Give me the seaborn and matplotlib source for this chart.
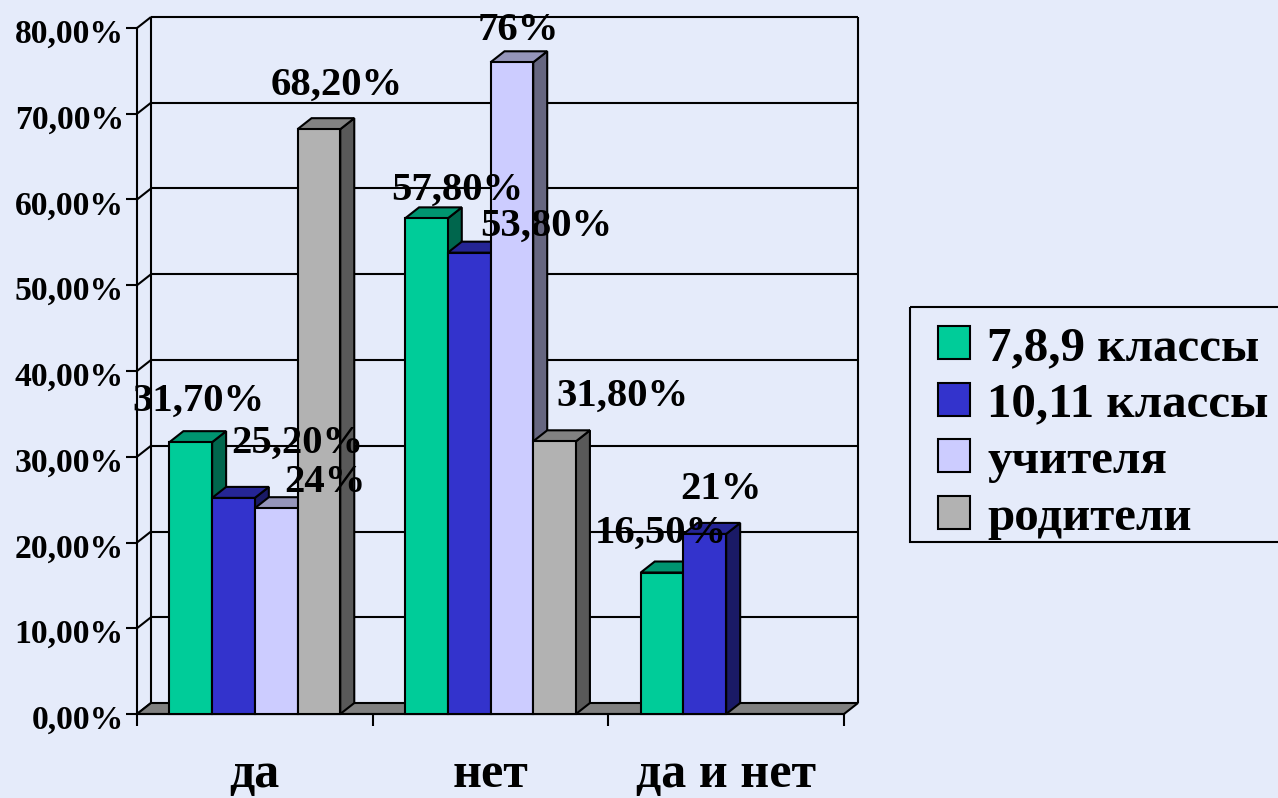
import numpy as np
import pandas as pd
import seaborn as sns
import matplotlib
matplotlib.use("Agg")
import matplotlib.pyplot as plt
from matplotlib.colors import to_rgb
from matplotlib.patches import Polygon
from matplotlib.lines import Line2D
from matplotlib.transforms import IdentityTransform, Affine2D

categories = ["да", "нет", "да и нет"]
series_names = ["7,8,9 классы", "10,11 классы", "учителя", "родители"]
grades_789 = [31.7, 57.8, 16.5]
grades_1011 = [25.2, 53.8, 21.0]
teachers = [24.0, 76.0, np.nan]
parents = [68.2, 31.8, np.nan]
labels_789 = ["31,70%", "57,80%", "16,50%"]
labels_1011 = ["25,20%", "53,80%", "21%"]
labels_teachers = ["24%", "76%", None]
labels_parents = ["68,20%", "31,80%", None]
y_ticks = [0, 10, 20, 30, 40, 50, 60, 70, 80]
y_tick_labels = ["0,00%", "10,00%", "20,00%", "30,00%", "40,00%",
                 "50,00%", "60,00%", "70,00%", "80,00%"]

colors = ["#00CC99", "#3333CC", "#CCCCFF", "#B2B2B2"]
bg = "#E5EBFA"
W, H = 1278, 798
DX, DY = 14, 11
LW = 1.5
FONT = "Liberation Serif"

# label offsets from each bar's top centre, in pixels (x right, y up)
offsets = {
    ("7,8,9 классы", 0): (8, 41), ("7,8,9 классы", 1): (31, 28), ("7,8,9 классы", 2): (-1, 39),
    ("10,11 классы", 0): (64, 55), ("10,11 классы", 1): (77, 26), ("10,11 классы", 2): (16, 44),
    ("учителя", 0): (49, 26), ("учителя", 1): (7, 32),
    ("родители", 0): (18, 44), ("родители", 1): (68, 45),
}

df = pd.DataFrame({
    "category": categories * 4,
    "series": np.repeat(series_names, 3),
    "value": grades_789 + grades_1011 + teachers + parents,
    "label": labels_789 + labels_1011 + labels_teachers + labels_parents,
})

sns.set_theme(style="white")
plt.rcParams["font.family"] = [FONT, "DejaVu Sans"]
plt.rcParams["font.weight"] = "bold"

fig = plt.figure(figsize=(W / 100, H / 100), dpi=100, facecolor=bg)
ax = fig.add_axes([137 / W, (H - 714) / H, 707 / W, 686 / H])
ax.patch.set_alpha(0)

sns.barplot(data=df.dropna(subset=["value"]), x="category", y="value", hue="series",
            order=categories, hue_order=series_names, palette=colors, saturation=1,
            width=0.725, gap=0, edgecolor="black", linewidth=LW, ax=ax, legend=True)
ax.set_xlim(-0.5, 2.5)
ax.set_ylim(0, 80)
ax.set_xlabel("")
ax.set_ylabel("")

# axes, ticks
ax.set_yticks(y_ticks)
ax.set_yticklabels(y_tick_labels, fontsize=24.2, fontweight="bold", color="black")
ax.tick_params(axis="y", left=True, length=8, width=LW, pad=1.5, color="black")
for lbl in ax.get_yticklabels():
    lbl.set_transform(lbl.get_transform() + Affine2D().translate(0, -3))
ax.set_xticks(range(len(categories)))
ax.set_xticklabels(categories, fontsize=36, fontweight="bold", color="black")
ax.tick_params(axis="x", which="major", bottom=False, length=0, pad=27.5)
ax.set_xticks([-0.5, 0.5, 1.5, 2.5], minor=True)
ax.tick_params(axis="x", which="minor", bottom=True, length=8.6, width=LW, color="black")
for side in ("top", "right"):
    ax.spines[side].set_visible(False)
for side in ("left", "bottom"):
    ax.spines[side].set_color("black")
    ax.spines[side].set_linewidth(LW)
ax.spines["bottom"].set_zorder(2.9)

to_px = ax.transData.transform
identity = IdentityTransform()


def poly(points, face, z):
    p = Polygon(points, closed=True, facecolor=face, edgecolor="black", linewidth=LW,
                transform=identity, zorder=z, clip_on=False)
    ax.add_patch(p)
    return p


def line(points, z=1):
    pts = np.array(points)
    ax.add_line(Line2D(pts[:, 0], pts[:, 1], color="black", linewidth=LW,
                       transform=identity, zorder=z, clip_on=False,
                       solid_capstyle="butt"))


x0, x1 = ax.get_xlim()
# back wall, floor and gridlines
for v in y_ticks:
    lx, ly = to_px((x0, v))
    rx, _ = to_px((x1, v))
    line([(lx, ly), (lx + DX, ly + DY)])
    if v:
        line([(lx + DX, ly + DY), (rx + DX, ly + DY)])
lx, by = to_px((x0, 0))
rx, ty = to_px((x1, 80))
line([(lx + DX, by + DY), (lx + DX, ty + DY)])
line([(rx + DX, by + DY), (rx + DX, ty + DY)])
poly([(lx, by), (lx + DX, by + DY), (rx + DX, by + DY), (rx, by)], "#808080", 1.5)

# 3D faces on the bars drawn by seaborn, painted left to right
bars = []
for name, container in zip(series_names, ax.containers):
    color = to_rgb(colors[series_names.index(name)])
    for j, bar in enumerate(container):
        bars.append((bar, color, name, j))
bars.sort(key=lambda b: b[0].get_x())

for i, (bar, color, name, j) in enumerate(bars):
    left = bar.get_x()
    right = left + bar.get_width()
    height = bar.get_height()
    (xa, ya), (xb, yb) = to_px((left, 0)), to_px((right, height))
    z = 3 + i * 0.1
    poly([(xb, ya), (xb + DX, ya + DY), (xb + DX, yb + DY), (xb, yb)],
         tuple(c * 0.5 for c in color), z)
    poly([(xa, yb), (xa + DX, yb + DY), (xb + DX, yb + DY), (xb, yb)],
         tuple(c * 0.73 for c in color), z + 0.01)
    bar.set_zorder(z + 0.02)
    bar.set_clip_on(False)
    text = df[(df["series"] == name)].dropna(subset=["value"])["label"].iloc[j]
    ax.annotate(text, xy=((left + right) / 2, height), xytext=offsets[(name, j)],
                textcoords="offset pixels", ha="center", va="center",
                fontsize=29.3, fontweight="bold", color="black", zorder=20,
                annotation_clip=False)

# legend and its frame, which runs off the right edge of the picture
sns.move_legend(ax, loc="upper left", bbox_to_anchor=(938 / W, (H - 326) / H),
                bbox_transform=fig.transFigure, title=None, frameon=False, fontsize=35.3,
                handlelength=0.653, handleheight=0.653, handletextpad=0.35, labelspacing=0.255,
                borderpad=0, borderaxespad=0)
leg = ax.get_legend()
leg.set_zorder(30)
for t in leg.get_texts():
    t.set_fontweight("bold")
    t.set_color("black")
poly([(910, H - 307), (1285, H - 307), (1285, H - 542), (910, H - 542)], "none", 25)

fig.savefig("out.png", dpi=100, facecolor=bg)
